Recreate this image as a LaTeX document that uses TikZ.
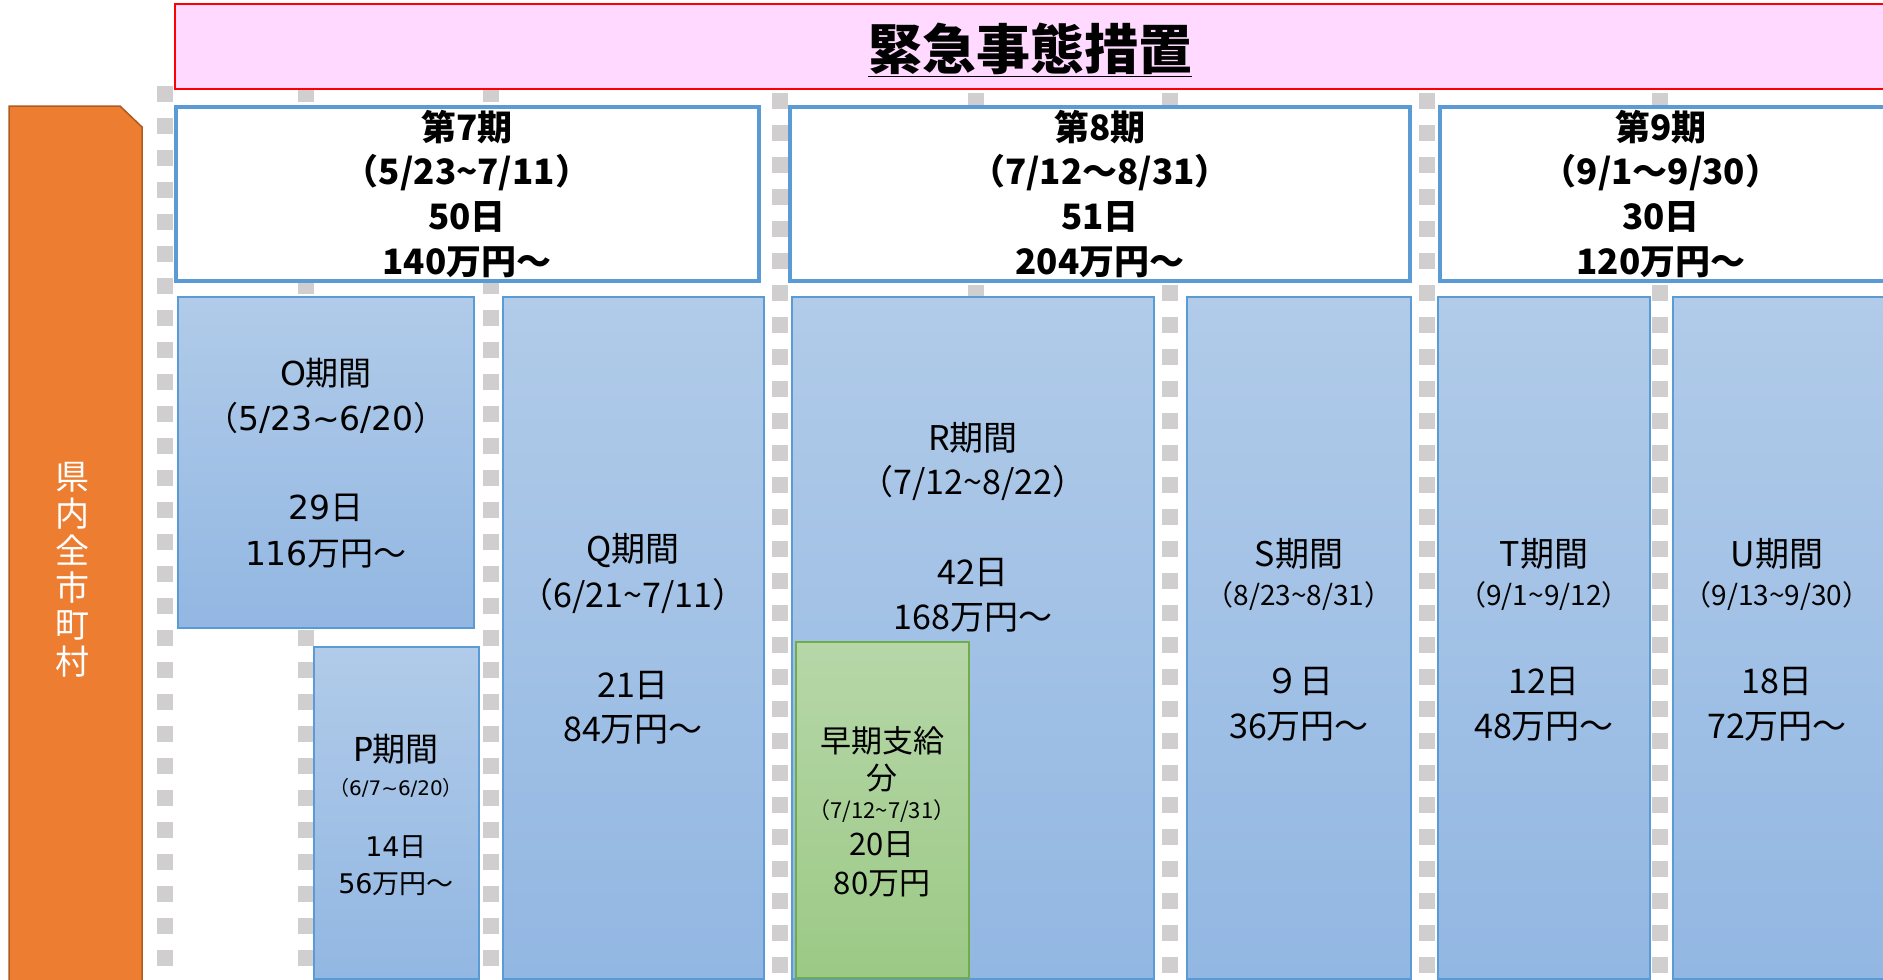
\documentclass[tikz,border=0pt]{standalone}
\usepackage{fontspec}
\setmainfont{Noto Sans CJK JP}
\newfontfamily\vd{DejaVu Sans}
\newcommand\tld{\textasciitilde}
\definecolor{pinkfill}{RGB}{255,217,255}
\definecolor{redline}{RGB}{255,0,0}
\definecolor{orangefill}{RGB}{237,125,49}
\definecolor{orangeline}{RGB}{174,90,33}
\definecolor{pblue}{RGB}{91,155,213}
\definecolor{btop}{RGB}{177,203,233}
\definecolor{bbot}{RGB}{146,183,226}
\definecolor{gtop}{RGB}{182,215,168}
\definecolor{gbot}{RGB}{156,201,134}
\definecolor{gline}{RGB}{112,173,71}
\definecolor{dgray}{RGB}{208,206,206}
\tikzset{
  dashline/.style={line width=16pt, draw=dgray, dash pattern=on 16pt off 16pt},
  periodbox/.style={draw=pblue, line width=4pt, fill=white},
  bluebox/.style={draw=pblue, line width=1.5pt, top color=btop, bottom color=bbot},
  greenbox/.style={draw=gline, line width=1.5pt, top color=gtop, bottom color=gbot},
  ptext/.style={font=\bfseries\fontsize{35}{40}\selectfont, inner sep=0pt},
  btext/.style={font=\fontsize{34}{38}\selectfont, inner sep=0pt},
  otext/.style={font=\fontsize{33}{38}\selectfont, inner sep=0pt},
  stext/.style={font=\fontsize{28}{32}\selectfont, inner sep=0pt},
  gtext/.style={font=\fontsize{31}{36}\selectfont, inner sep=0pt},
}
\begin{document}
\begin{tikzpicture}[x=1pt,y=-1pt]
\useasboundingbox (0,0) rectangle (1883,980);
\clip (0,0) rectangle (1883,980);
% dashed separators
\foreach \x/\s in {165/86,306/86,491/86,780/93,976/93,1170/93,1427/93,1660/93}
  \draw[dashline] (\x,\s) -- (\x,990);
% banner
\draw[draw=redline, line width=2pt, fill=pinkfill] (175,4) rectangle (1900,89);
\node[font=\bfseries\fontsize{54}{54}\selectfont, inner sep=0pt] (title) at (1030,50) {\underline{緊急事態措置}};
% orange side bar
\draw[fill=orangefill, draw=orangeline, line width=1.5pt] (9,995) -- (9,106) -- (120,106) -- (142,127) -- (142,995) -- cycle;
\node[text=white, font=\fontsize{34}{37}\selectfont, align=center, inner sep=0pt] (pref) at (72,570) {県\\内\\全\\市\\町\\村};
% period boxes
\draw[periodbox] (176,107) rectangle (759,281);
\draw[periodbox] (790,107) rectangle (1410,281);
\draw[periodbox] (1440,107) rectangle (1895,281);
\node[ptext] (p7a) at (467,127) {第7期};
\node[ptext] (p7b) at (467,173) {（5/23\tld 7/11）};
\node[ptext] (p7c) at (467,217) {50日};
\node[ptext] (p7d) at (467,262) {140万円～};
\node[ptext] (p8a) at (1100,127) {第8期};
\node[ptext] (p8b) at (1100,173) {（7/12～8/31）};
\node[ptext] (p8c) at (1100,217) {51日};
\node[ptext] (p8d) at (1100,262) {204万円～};
\node[ptext] (p9a) at (1661,127) {第9期};
\node[ptext] (p9b) at (1661,173) {（9/1～9/30）};
\node[ptext] (p9c) at (1661,217) {30日};
\node[ptext] (p9d) at (1661,262) {120万円～};
% blue boxes
\draw[bluebox] (178,297) rectangle (474,628);
\draw[bluebox] (314,647) rectangle (479,979);
\draw[bluebox] (503,297) rectangle (764,979);
\draw[bluebox] (792,297) rectangle (1154,979);
\draw[greenbox] (796,642) rectangle (969,978);
\draw[bluebox] (1187,297) rectangle (1411,979);
\draw[bluebox] (1438,297) rectangle (1650,979);
\draw[bluebox] (1673,297) rectangle (1895,979);
% O
\node[otext] (o1) at (326,373) {{\vd O}期間};
\node[otext] (o2) at (326,418) {（{\vd 5/23\tld 6/20}）};
\node[otext] (o3) at (326,508) {{\vd 29}日};
\node[otext] (o4) at (326,554) {{\vd 116}万円～};
% P
\node[otext] (pp1) at (396,749) {{\vd P}期間};
\node[font=\fontsize{20}{24}\selectfont, inner sep=0pt] (pp2) at (396,788) {（{\vd 6/7\tld 6/20}）};
\node[font=\fontsize{27}{30}\selectfont, inner sep=0pt] (pp3) at (396,847) {{\vd 14}日};
\node[font=\fontsize{27}{30}\selectfont, inner sep=0pt] (pp4) at (396,884) {{\vd 56}万円～};
% Q
\node[btext] (q1) at (633,551) {Q期間};
\node[btext] (q2) at (633,596) {（6/21\tld 7/11）};
\node[btext] (q3) at (633,686) {21日};
\node[btext] (q4) at (633,730) {84万円～};
% R
\node[btext] (r1) at (973,438) {R期間};
\node[btext] (r2) at (973,483) {（7/12\tld 8/22）};
\node[btext] (r3) at (973,573) {42日};
\node[btext] (r4) at (973,618) {168万円～};
% green
\node[gtext] (g1) at (882,741) {早期支給};
\node[gtext] (g2) at (882,778) {分};
\node[font=\fontsize{22}{26}\selectfont, inner sep=0pt] (g3) at (882,811) {（7/12\tld 7/31）};
\node[gtext] (g4) at (882,845) {20日};
\node[gtext] (g5) at (882,884) {80万円};
% S
\node[btext] (s1) at (1299,554) {S期間};
\node[stext] (s2) at (1299,596) {（8/23\tld 8/31）};
\node[btext] (s3) at (1299,682) {９日};
\node[btext] (s4) at (1299,727) {36万円～};
% T
\node[btext] (t1) at (1544,554) {T期間};
\node[stext] (t2) at (1544,596) {（9/1\tld 9/12）};
\node[btext] (t3) at (1544,682) {12日};
\node[btext] (t4) at (1544,727) {48万円～};
% U
\node[btext] (u1) at (1777,554) {U期間};
\node[stext] (u2) at (1777,596) {（9/13\tld 9/30）};
\node[btext] (u3) at (1777,682) {18日};
\node[btext] (u4) at (1777,727) {72万円～};
\end{tikzpicture}
\end{document}
